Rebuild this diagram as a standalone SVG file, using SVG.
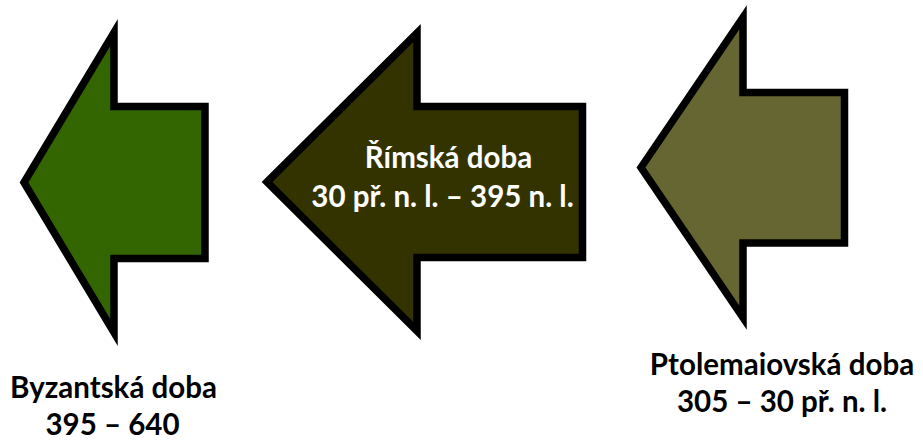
<svg xmlns="http://www.w3.org/2000/svg" width="923" height="448" viewBox="0 0 923 448">
<style>
.arrow{stroke:#000;stroke-width:7.5;stroke-linejoin:miter;stroke-miterlimit:10}
.t{font-family:Lato,"Open Sans","Liberation Sans",sans-serif;font-weight:bold;font-size:29.5px;text-anchor:middle}
.dark{fill:#000}
.light{fill:#fff}
</style>
<rect width="923" height="448" fill="#fff"/>
<g id="byzantine">
<polygon class="arrow" fill="#336600" points="24,182.5 114,32.5 114,106.5 205,106.5 205,258.5 114,258.5 114,332.5"/>
<text class="t dark" x="113.5" y="398">Byzantská doba</text>
<text class="t dark" x="112.5" y="435">395 – 640</text>
</g>
<g id="roman">
<polygon class="arrow" fill="#333300" points="267,182 417,33 417,106.5 582.5,106.5 582.5,257.5 417,257.5 417,331"/>
<text class="t light" x="448.5" y="168">Římská doba</text>
<text class="t light" x="442.5" y="207">30 př. n. l. – 395 n. l.</text>
</g>
<g id="ptolemaic">
<polygon class="arrow" fill="#666633" points="641,167.5 743,17.5 743,92.5 844.5,92.5 844.5,243 743,243 743,317.5"/>
<text class="t dark" x="782" y="375">Ptolemaiovská doba</text>
<text class="t dark" x="782" y="412">305 – 30 př. n. l.</text>
</g>
<g id="connectors"></g>
</svg>
